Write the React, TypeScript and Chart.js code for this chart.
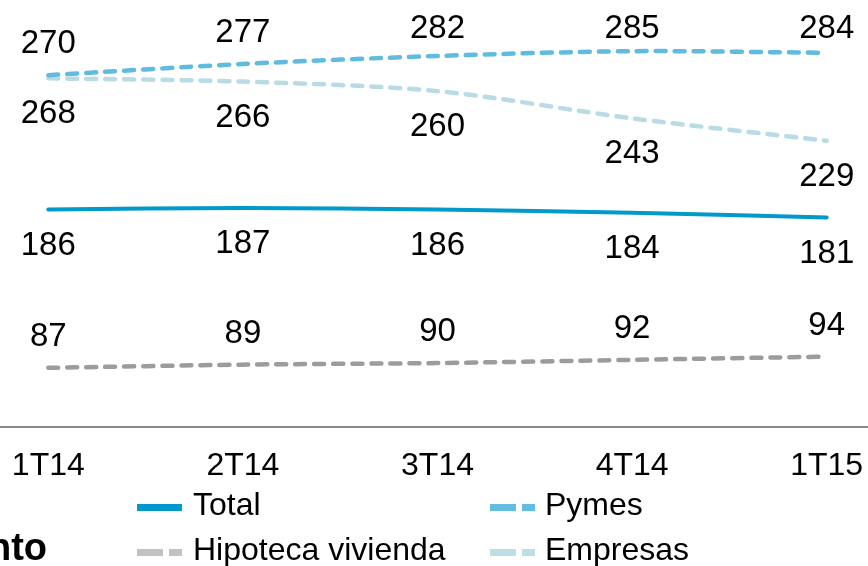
import React, { useEffect, useRef } from "react";
import { Chart, registerables } from "chart.js";

Chart.register(...registerables);

const categories = ["1T14", "2T14", "3T14", "4T14", "1T15"];
const totalValues = [186, 187, 186, 184, 181];
const pymesValues = [270, 277, 282, 285, 284];
const hipotecaValues = [87, 89, 90, 92, 94];
const empresasValues = [268, 266, 260, 243, 229];

const FONT = '"Liberation Sans", Arial, sans-serif';

const seriesDefs = [
  { label: "Total", data: totalValues, color: "#0099CC", legendColor: "#0099CC", dashed: false, labelPos: "below" },
  { label: "Pymes", data: pymesValues, color: "#5FBCDF", legendColor: "#63BDE0", dashed: true, labelPos: "above" },
  { label: "Hipoteca vivienda", data: hipotecaValues, color: "#9C9C9C", legendColor: "#C2C2C2", dashed: true, labelPos: "above" },
  { label: "Empresas", data: empresasValues, color: "#B9DBE6", legendColor: "#BDDDE7", dashed: true, labelPos: "below" },
];

const labelPlugin = {
  id: "valueLabels",
  afterDatasetsDraw(chart: any) {
    const ctx = chart.ctx;
    ctx.save();
    ctx.font = `33px ${FONT}`;
    ctx.fillStyle = "#000";
    ctx.textAlign = "center";
    ctx.textBaseline = "middle";
    chart.data.datasets.forEach((ds: any, di: number) => {
      const meta = chart.getDatasetMeta(di);
      const pos = seriesDefs[di].labelPos;
      meta.data.forEach((pt: any, i: number) => {
        let y = pos === "above" ? pt.y - 31 : pt.y + 36;
        if (pos === "above") y = Math.max(y, 29);
        ctx.fillText(String(ds.data[i]), pt.x, y);
      });
    });
    ctx.restore();
  },
};

export default function App() {
  const ref = useRef<HTMLCanvasElement>(null);
  useEffect(() => {
    if (!ref.current) return;
    const chart = new Chart(ref.current, {
      type: "line",
      data: {
        labels: categories,
        datasets: seriesDefs.map((s) => ({
          label: s.label,
          data: s.data,
          borderColor: s.color,
          backgroundColor: s.color,
          borderWidth: s.dashed ? 4.5 : 4,
          borderDash: s.dashed ? [10, 9] : [],
          borderCapStyle: "round" as const,
          pointRadius: 0,
          tension: 0.3,
          fill: false,
        })),
      },
      options: {
        animation: false,
        responsive: false,
        events: [],
        layout: { padding: 0 },
        plugins: { legend: { display: false }, tooltip: { enabled: false }, title: { display: false } },
        scales: {
          x: {
            type: "category",
            offset: true,
            grid: { display: false, drawTicks: false },
            border: { display: true, color: "#888888", width: 2 },
            ticks: { color: "#000", font: { size: 32, family: FONT }, padding: 20, autoSkip: false, maxRotation: 0 },
            afterFit: (scale: any) => {
              scale.height = 139;
            },
          },
          y: { display: false, min: 50, max: 317 },
        },
      },
      plugins: [labelPlugin],
    });
    return () => chart.destroy();
  }, []);

  const legendItem = (s: any, x: number, cy: number, textX: number, key: string) => {
    const markers = s.dashed
      ? [
          <div key="a" style={{ position: "absolute", left: x, top: cy - 3.5, width: 26, height: 7, background: s.legendColor }} />,
          <div key="b" style={{ position: "absolute", left: x + 32, top: cy - 3.5, width: 13, height: 7, background: s.legendColor }} />,
        ]
      : [<div key="a" style={{ position: "absolute", left: x, top: cy - 3.5, width: 45, height: 7, background: s.legendColor }} />];
    return (
      <React.Fragment key={key}>
        {markers}
        <div
          style={{
            position: "absolute",
            left: textX,
            top: cy - 19,
            font: `32px ${FONT}`,
            lineHeight: "32px",
            color: "#000",
            whiteSpace: "nowrap",
          }}
        >
          {s.label}
        </div>
      </React.Fragment>
    );
  };

  return (
    <div style={{ position: "absolute", left: 0, top: 0, width: 868, height: 566, overflow: "hidden", background: "#fff" }}>
      <canvas ref={ref} width={973} height={566} style={{ position: "absolute", left: -49, top: 0, width: 973, height: 566 }} />
      {legendItem(seriesDefs[0], 137, 507, 193, "t")}
      {legendItem(seriesDefs[1], 490, 507, 545, "p")}
      {legendItem(seriesDefs[2], 137, 552, 193, "h")}
      {legendItem(seriesDefs[3], 490, 552, 545, "e")}
      <div
        style={{
          position: "absolute",
          right: 821,
          top: 528,
          font: `bold 38px ${FONT}`,
          lineHeight: "38px",
          color: "#000",
          whiteSpace: "nowrap",
        }}
      >
        nto
      </div>
    </div>
  );
}
